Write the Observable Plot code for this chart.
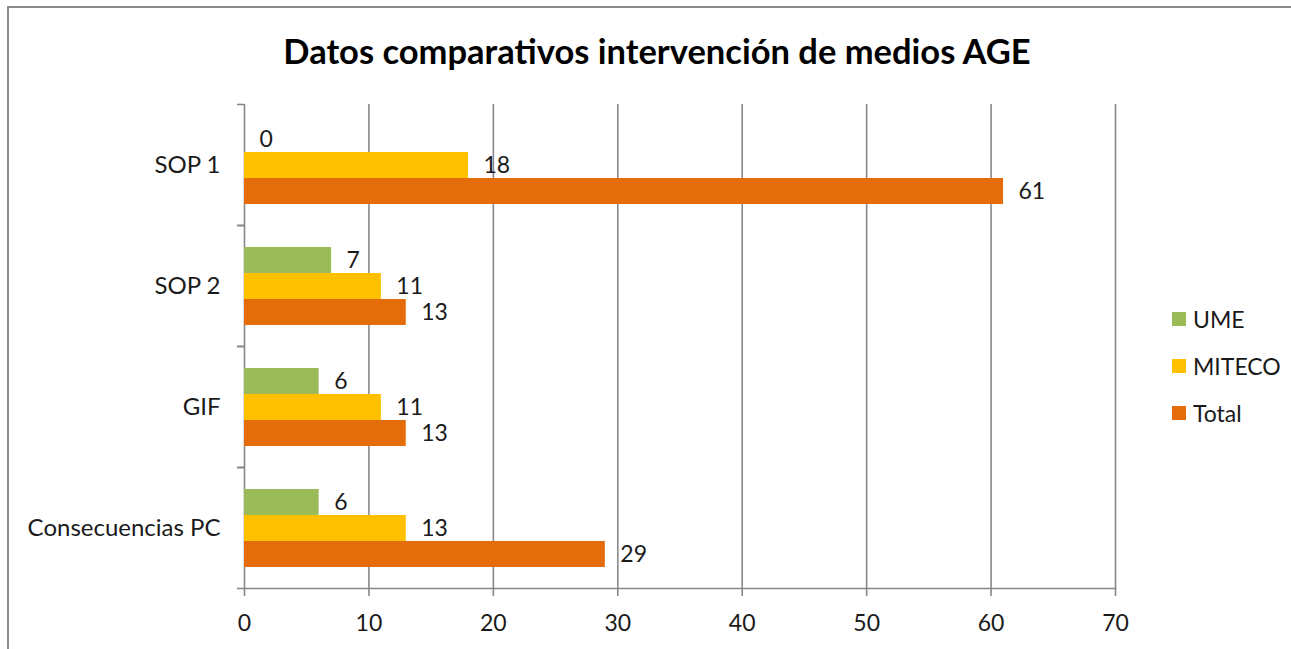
<!DOCTYPE html>
<html>
<head>
<meta charset="utf-8">
<script src="https://cdn.jsdelivr.net/npm/d3@7"></script>
<script src="https://cdn.jsdelivr.net/npm/@observablehq/plot@0.6"></script>
<style>
  html, body { margin: 0; padding: 0; background: #fff; overflow: hidden; }
  #wrap { position: relative; width: 1291px; height: 649px; font-family: Lato, "Open Sans", sans-serif; }
  #border { position: absolute; left: 7px; top: 6px; width: 1320px; height: 700px; border: 2px solid #8a8a8a; box-sizing: border-box; }
  #title { position: absolute; left: 157px; width: 1000px; top: 29px; text-align: center; font-weight: 700; font-size: 34.5px; line-height: 44px; color: #000; }
  #chart { position: absolute; left: 0; top: 0; }
  #legend { position: absolute; left: 1172px; top: 295px; font-size: 23px; color: #1a1a1a; }
  .item { display: flex; align-items: center; height: 47px; margin-top: 0; }
  .sw { width: 14px; height: 14px; margin-right: 7px; }
</style>
</head>
<body>
<div id="wrap">
  <div id="border"></div>
  <div id="chart"></div>
  <div id="title"></div>
  <div id="legend"></div>
</div>
<script>
const titleText = "Datos comparativos intervención de medios AGE";
const categories = ["SOP 1", "SOP 2", "GIF", "Consecuencias PC"];
const series = ["UME", "MITECO", "Total"];
const ume = [0, 7, 6, 6];
const miteco = [18, 11, 11, 13];
const total = [61, 13, 13, 29];
const xTicks = [0, 10, 20, 30, 40, 50, 60, 70];
const colors = ["#9BBB59", "#FFC000", "#E46C0A"];

const seriesValues = [ume, miteco, total];
const data = categories.flatMap((c, i) =>
  series.map((s, j) => ({category: c, series: s, value: seriesValues[j][i]}))
);

const W = 1291, H = 649, mt = 104, mb = 61, ml = 244, mr = 176;
const halfStep = (H - mt - mb) / categories.length / 2;
const gridColor = "#888888";
const textColor = "#1a1a1a";

document.getElementById("title").textContent = titleText;

const plot = Plot.plot({
  width: W,
  height: H,
  marginTop: mt,
  marginBottom: mb,
  marginLeft: ml,
  marginRight: mr,
  style: {fontFamily: "Lato, 'Open Sans', sans-serif", fontSize: "23px", color: textColor, background: "transparent", overflow: "visible"},
  x: {domain: [0, 70], label: null},
  fy: {domain: categories, padding: 0, axis: null, label: null},
  y: {domain: series, paddingInner: 0, paddingOuter: 0.8, axis: null, label: null},
  color: {domain: series, range: colors},
  marks: [
    Plot.gridX(xTicks, {stroke: gridColor, strokeOpacity: 1, strokeWidth: 1.6}),
    Plot.barX(data, {fy: "category", y: "series", x: "value", fill: "series"}),
    Plot.text(data, {fy: "category", y: "series", x: "value", text: d => String(d.value), textAnchor: "start", dx: 15, fill: textColor, fontSize: 23}),
    Plot.frame({anchor: "bottom", facetAnchor: "bottom", stroke: gridColor, strokeWidth: 1.6}),
    Plot.axisX({ticks: xTicks, tickSize: 8, tickPadding: 18, stroke: gridColor, strokeWidth: 1.6, fill: textColor, fontSize: 23, label: null}),
    Plot.axisFy({anchor: "left", tickSize: 0, tickPadding: 24, fill: textColor, fontSize: 24, label: null}),
    Plot.axisFy({anchor: "left", tickSize: 7, tickFormat: () => "", dy: -halfStep, stroke: gridColor, strokeWidth: 1.6, label: null}),
    Plot.axisFy({anchor: "left", tickSize: 7, tickFormat: () => "", dy: halfStep, stroke: gridColor, strokeWidth: 1.6, label: null})
  ]
});
document.getElementById("chart").appendChild(plot);

const legend = document.getElementById("legend");
series.forEach((s, i) => {
  const item = document.createElement("div");
  item.className = "item";
  const sw = document.createElement("div");
  sw.className = "sw";
  sw.style.background = colors[i];
  const lab = document.createElement("span");
  lab.textContent = s;
  item.appendChild(sw);
  item.appendChild(lab);
  legend.appendChild(item);
});
</script>
</body>
</html>
